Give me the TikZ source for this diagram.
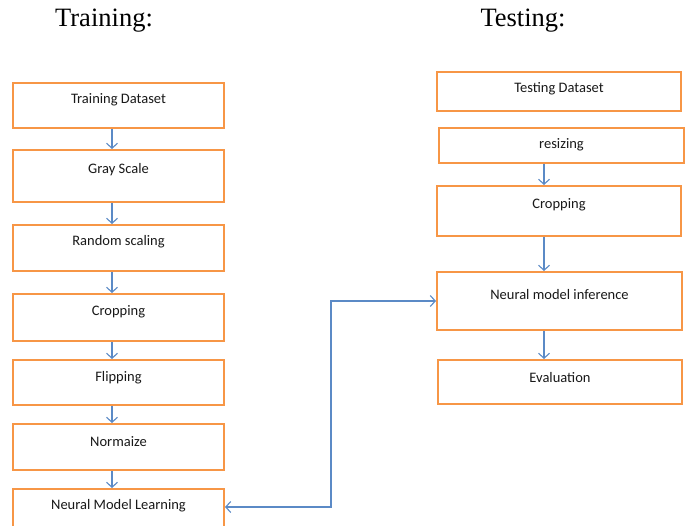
\documentclass[tikz,border=0pt]{standalone}
\usepackage{fontspec}
\setmainfont{Carlito}
\newfontfamily\titlefont{Liberation Serif}
\usetikzlibrary{arrows.meta,positioning}
\definecolor{boxorange}{HTML}{F79646}
\definecolor{arrowblue}{HTML}{5B8AC6}
\tikzset{
  stepbox/.style={draw=boxorange, line width=2pt, fill=white, inner sep=0pt},
  flow/.style={draw=arrowblue, line width=1.1pt, -{Straight Barb[length=5pt,width=11pt]}},
  boxtext/.style={font=\fontsize{14.5}{16}\selectfont, text=black!90, yshift=-1.5pt},
  titletext/.style={font=\titlefont\fontsize{26.5}{30}\selectfont}
}
\begin{document}
\begin{tikzpicture}[x=1pt,y=-1pt]
\useasboundingbox (0,0) rectangle (687,526);
% titles
\node[titletext] (ttrain) at (104,21) {Training:};
\node[titletext] (ttest) at (523,21) {Testing:};
% training column
\node[stepbox, minimum width=211pt, minimum height=45pt] (td) at (118.5,105.5) {};
\node[boxtext] (tdt) at (118.5,98) {Training Dataset};
\node[stepbox, minimum width=211pt, minimum height=52pt] (gs) at (118.5,176) {};
\node[boxtext] (gst) at (118.5,168) {Gray Scale};
\node[stepbox, minimum width=211pt, minimum height=46pt] (rs) at (118.5,248) {};
\node[boxtext] (rst) at (118.5,240) {Random scaling};
\node[stepbox, minimum width=211pt, minimum height=47pt] (cr) at (118.5,317.5) {};
\node[boxtext] (crt) at (118.5,310) {Cropping};
\node[stepbox, minimum width=211pt, minimum height=45pt] (fl) at (118.5,382.5) {};
\node[boxtext] (flt) at (118.5,376) {Flipping};
\node[stepbox, minimum width=211pt, minimum height=46pt] (no) at (118.5,447) {};
\node[boxtext] (not) at (118.5,440) {Normaize};
\node[stepbox, minimum width=211pt, minimum height=48pt] (nml) at (118.5,513) {};
\node[boxtext] (nmlt) at (118.5,504) {Neural Model Learning};
% testing column
\node[stepbox, minimum width=244pt, minimum height=39pt] (tsd) at (559,91.5) {};
\node[boxtext] (tsdt) at (559,87) {Testing Dataset};
\node[stepbox, minimum width=245pt, minimum height=35pt] (rz) at (561.5,145.5) {};
\node[boxtext] (rzt) at (561.5,143) {resizing};
\node[stepbox, minimum width=244pt, minimum height=50pt] (tc) at (559,211) {};
\node[boxtext] (tct) at (559,203) {Cropping};
\node[stepbox, minimum width=245pt, minimum height=58pt] (nmi) at (559.5,301) {};
\node[boxtext] (nmit) at (559.5,293) {Neural model inference};
\node[stepbox, minimum width=244pt, minimum height=44pt] (ev) at (560,382) {};
\node[boxtext] (evt) at (560,376) {Evaluation};
% training arrows
\draw[flow] (td.south -| 112,0) -- (gs.north -| 112,0);
\draw[flow] (gs.south -| 112,0) -- (rs.north -| 112,0);
\draw[flow] (rs.south -| 112,0) -- (cr.north -| 112,0);
\draw[flow] (cr.south -| 112,0) -- (fl.north -| 112,0);
\draw[flow] (fl.south -| 112,0) -- (no.north -| 112,0);
\draw[flow] (no.south -| 112,0) -- (nml.north -| 112,0);
% testing arrows
\draw[flow] (rz.south -| 544,0) -- (tc.north -| 544,0);
\draw[flow] (tc.south -| 544,0) -- (nmi.north -| 544,0);
\draw[flow] (nmi.south -| 544,0) -- (ev.north -| 544,0);
% link
\draw[flow, {Straight Barb[length=5pt,width=11pt]}-{Straight Barb[length=5pt,width=11pt]}]
  ([yshift=-19pt]nml.north east) -- ++(106,0) |- (nmi.west);
\end{tikzpicture}
\end{document}
